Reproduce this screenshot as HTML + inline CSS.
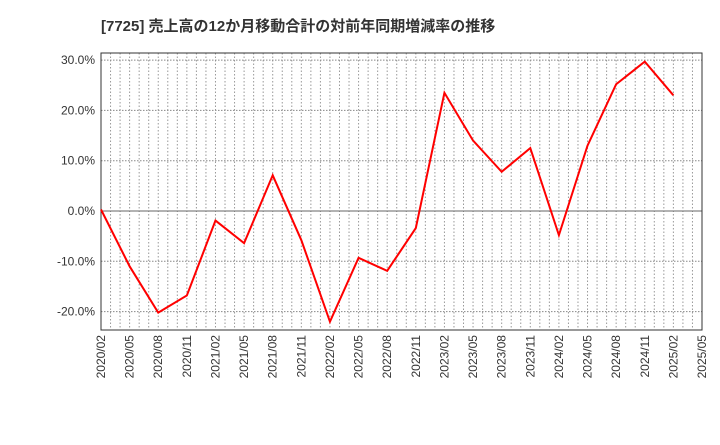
<!DOCTYPE html>
<html><head><meta charset="utf-8"><style>
body{margin:0;background:#fff;font-family:"Liberation Sans","Noto Sans CJK JP",sans-serif}
</style></head><body>
<svg width="720" height="440" xmlns="http://www.w3.org/2000/svg">
<text x="101" y="31" font-size="15" font-weight="bold" fill="#333" font-family="Liberation Sans,Noto Sans CJK JP,sans-serif">[7725]  売上高の12か月移動合計の対前年同期増減率の推移</text>
<g id="grid"></g><g id="axes"></g><g id="series"></g>
</svg>
<script>
const categories=["2020/02","2020/05","2020/08","2020/11","2021/02","2021/05","2021/08","2021/11","2022/02","2022/05","2022/08","2022/11","2023/02","2023/05","2023/08","2023/11","2024/02","2024/05","2024/08","2024/11","2025/02"];
const tickLabels=["2020/02","2020/05","2020/08","2020/11","2021/02","2021/05","2021/08","2021/11","2022/02","2022/05","2022/08","2022/11","2023/02","2023/05","2023/08","2023/11","2024/02","2024/05","2024/08","2024/11","2025/02","2025/05"];
const values=[0.3,-11,-20.2,-16.8,-1.9,-6.4,7.1,-5.8,-22,-9.3,-11.9,-3.4,23.5,14,7.8,12.5,-4.8,13,25.2,29.7,23];
const yTicks=[30,20,10,0,-10,-20];
const NS="http://www.w3.org/2000/svg";
const L=101,R=702,T=53,B=330;
const x=i=>L+(R-L)*i/(tickLabels.length-1);
const y=v=>211-v*5.03;
function mk(tag,a,p){const e=document.createElementNS(NS,tag);for(const k in a)e.setAttribute(k,a[k]);p.appendChild(e);return e;}
const g=document.getElementById('grid'),ax=document.getElementById('axes'),s=document.getElementById('series');
const nm=(tickLabels.length-1)*3;
for(let m=1;m<nm;m++){const xx=L+(R-L)*m/nm;const l=mk('line',{x1:xx,x2:xx,y1:T,y2:B,stroke:'#999','stroke-dasharray':'1.5,2'},g);

}
yTicks.forEach(v=>{const l=mk('line',{x1:L,x2:R,y1:y(v),y2:y(v),stroke:v===0?'#666':'#888','stroke-dasharray':v===0?'none':'1.5,1.5'},g);


const t=mk('text',{x:L-6,y:y(v)+4,'text-anchor':'end','font-size':'12',fill:'#333'},ax);t.textContent=v.toFixed(1)+'%';

});
const fr=mk('rect',{x:L,y:T,width:R-L,height:B-T,fill:'none',stroke:'#333'},ax);


tickLabels.forEach((c,i)=>{const t=mk('text',{transform:`translate(${x(i)+4},${B+5}) rotate(-90)`,'text-anchor':'end','font-size':'12',fill:'#333'},ax);t.textContent=c;

});
const p=mk('polyline',{points:values.map((v,i)=>x(i)+','+y(v)).join(' '),fill:'none',stroke:'#f00','stroke-width':2},s);


</script>
</body></html>
